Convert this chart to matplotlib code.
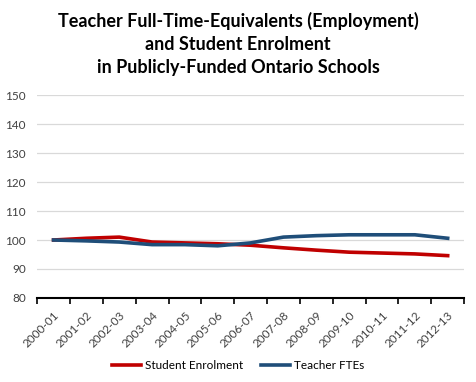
import numpy as np
import matplotlib.pyplot as plt

years = ['2000-01', '2001-02', '2002-03', '2003-04', '2004-05', '2005-06', '2006-07',
         '2007-08', '2008-09', '2009-10', '2010-11', '2011-12', '2012-13']
enrolment = [100, 100.6, 101.0, 99.3, 99.0, 98.7, 98.2, 97.3, 96.5, 95.8, 95.5, 95.2, 94.6]
teacher_fte = [100, 99.7, 99.3, 98.4, 98.4, 98.0, 99.0, 101.0, 101.5, 101.8, 101.8, 101.8, 100.6]

plt.rcParams['font.family'] = ['Lato', 'DejaVu Sans']

fig = plt.figure(figsize=(4.76, 3.82), dpi=100)
ax = fig.add_axes([0.078, 0.22, 0.897, 0.531])

x = np.arange(len(years))
ax.plot(x, enrolment, color='#c00000', lw=2.6, label='Student Enrolment')
ax.plot(x, teacher_fte, color='#1f4e79', lw=2.6, label='Teacher FTEs')

ax.set_xlim(-0.5, len(years) - 0.5)
ax.set_ylim(80, 150)
ax.set_yticks(range(80, 151, 10))
ax.yaxis.grid(True, color='#d9d9d9', lw=0.9)
ax.set_axisbelow(True)
ax.tick_params(axis='y', length=0, labelsize=8.5, colors='#404040', pad=8)
ax.set_xticks(x)
ax.set_xticklabels(years, rotation=45, ha='right', rotation_mode='anchor', fontsize=8.5, color='#404040')
ax.set_xticks(np.arange(-0.5, len(years)), minor=True)
ax.tick_params(axis='x', which='major', length=0, pad=8)
ax.tick_params(axis='x', which='minor', length=4, width=1.2, direction='out', color='black')
for s in ['top', 'right', 'left']:
    ax.spines[s].set_visible(False)
ax.spines['bottom'].set_linewidth(1.5)

fig.text(0.5, 0.97, 'Teacher Full-Time-Equivalents (Employment)\nand Student Enrolment\nin Publicly-Funded Ontario Schools',
         ha='center', va='top', fontsize=13, fontweight='bold', linespacing=1.45)

fig.legend(loc='lower center', bbox_to_anchor=(0.5, 0.0), ncol=2, frameon=False,
           fontsize=8.5, handlelength=2.5, handletextpad=0.3, columnspacing=1.5)

fig.savefig('out.png', dpi=100)
